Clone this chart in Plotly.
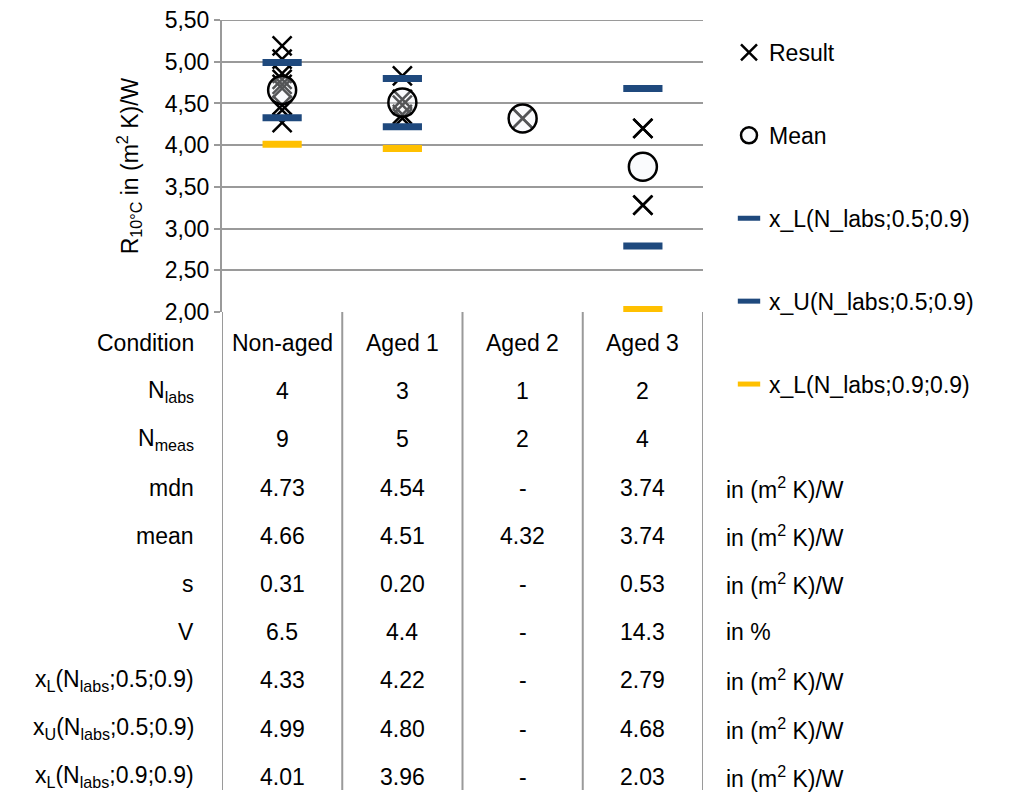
import plotly.graph_objects as go

# ---------------- data ----------------
conditions = ["Non-aged", "Aged 1", "Aged 2", "Aged 3"]

# individual results
res_cond = (["Non-aged"] * 9) + (["Aged 1"] * 5) + (["Aged 2"] * 2) + (["Aged 3"] * 4)
res_vals = [5.19, 5.03, 4.86, 4.79, 4.73, 4.68, 4.48, 4.42, 4.27,
            4.83, 4.55, 4.48, 4.37, 4.32,
            4.32, 4.32,
            4.20, 4.20, 3.28, 3.28]

n_labs = ["4", "3", "1", "2"]
n_meas = ["9", "5", "2", "4"]
mdn = ["4.73", "4.54", "-", "3.74"]
mean_vals = [4.66, 4.51, 4.32, 3.74]
s_vals = ["0.31", "0.20", "-", "0.53"]
v_vals = ["6.5", "4.4", "-", "14.3"]
xl05 = [4.33, 4.22, None, 2.79]
xu05 = [4.99, 4.80, None, 4.68]
xl09 = [4.01, 3.96, None, 2.03]

y_ticks = [2.0, 2.5, 3.0, 3.5, 4.0, 4.5, 5.0, 5.5]

row_labels = ["Condition", "N<sub>labs</sub>", "N<sub>meas</sub>", "mdn", "mean", "s", "V",
              "x<sub>L</sub>(N<sub>labs</sub>;0.5;0.9)",
              "x<sub>U</sub>(N<sub>labs</sub>;0.5;0.9)",
              "x<sub>L</sub>(N<sub>labs</sub>;0.9;0.9)"]
unit_kgw = "in (m<sup>2</sup> K)/W"
row_units = ["", "", "", unit_kgw, unit_kgw, unit_kgw, "in %", unit_kgw, unit_kgw, unit_kgw]

def fmt(v):
    return "-" if v is None else f"{v:.2f}"

table_rows = [conditions, n_labs, n_meas, mdn, [fmt(v) for v in mean_vals], s_vals, v_vals,
              [fmt(v) for v in xl05], [fmt(v) for v in xu05], [fmt(v) for v in xl09]]

# ---------------- layout geometry ----------------
# the page body has an 8px margin, so the figure is drawn 8px smaller
OFF = 8
W, H = 1016 - OFF, 794 - OFF
# plot area in page (reference) pixels
RL, RR, RT, RB = 222, 703, 20, 312
FONT = "Liberation Sans, Arial, sans-serif"
FS = 23
BLUE = "#1F497D"
YELLOW = "#FFC000"
GRID = "#9a9a9a"

def py(px):  # reference pixel y -> paper y
    return (RB - px) / (RB - RT)

def pxp(px):  # reference pixel x -> paper x
    return (px - RL) / (RR - RL)

fig = go.Figure()

fig.add_trace(go.Scatter(
    x=res_cond, y=res_vals, mode="markers", name="Result", legendgroup="a",
    marker=dict(symbol="x-thin-open", size=19, color="black", line=dict(width=2.5, color="black")),
))
fig.add_trace(go.Scatter(
    x=conditions, y=mean_vals, mode="markers", name="Mean", legendgroup="b",
    marker=dict(symbol="circle", size=28, color="rgba(240,244,250,0.35)",
                line=dict(width=2.5, color="black")),
))
for name, vals, col, grp in [("x_L(N_labs;0.5;0.9)", xl05, BLUE, "c"),
                             ("x_U(N_labs;0.5;0.9)", xu05, BLUE, "d"),
                             ("x_L(N_labs;0.9;0.9)", xl09, YELLOW, "e")]:
    fig.add_trace(go.Scatter(
        x=conditions, y=vals, mode="markers", name=name, legendgroup=grp,
        marker=dict(symbol="line-ew", size=28, color=col, line=dict(width=7, color=col)),
    ))

annotations = []
row_px = [343 + i * 48.2 for i in range(len(row_labels))]
for i, (lab, vals, unit) in enumerate(zip(row_labels, table_rows, row_units)):
    yy = py(row_px[i])
    annotations.append(dict(x=pxp(196), y=yy, xref="paper", yref="paper", text=lab,
                            showarrow=False, xanchor="right", yanchor="middle",
                            font=dict(size=FS, family=FONT, color="black")))
    for c, v in zip(conditions, vals):
        annotations.append(dict(x=c, y=yy, xref="x", yref="paper", text=v,
                                showarrow=False, xanchor="center", yanchor="middle",
                                font=dict(size=FS, family=FONT, color="black")))
    if unit:
        annotations.append(dict(x=pxp(724), y=yy, xref="paper", yref="paper", text=unit,
                                showarrow=False, xanchor="left", yanchor="middle",
                                font=dict(size=FS, family=FONT, color="black")))

shapes = []
for k in range(len(conditions) + 1):
    shapes.append(dict(type="line", xref="x", yref="paper", x0=k - 0.5, x1=k - 0.5,
                       y0=0, y1=py(790), line=dict(color=GRID, width=2)))
# top gridline at the upper end of the value axis
shapes.append(dict(type="line", xref="paper", yref="y", x0=0, x1=1,
                   y0=y_ticks[-1], y1=y_ticks[-1], line=dict(color=GRID, width=2), layer="below"))

fig.update_layout(
    width=W, height=H,
    margin=dict(l=RL - OFF, r=1016 - RR, t=RT - OFF, b=794 - RB, autoexpand=False),
    paper_bgcolor="white", plot_bgcolor="white",
    font=dict(family=FONT, size=FS, color="black"),
    showlegend=True,
    legend=dict(x=pxp(729), y=py(31), xanchor="left", yanchor="top",
                font=dict(size=FS, family=FONT, color="black"),
                tracegroupgap=50, bgcolor="rgba(0,0,0,0)", itemwidth=30,
                maxheight=700),
    xaxis=dict(type="category", categoryarray=conditions, range=[-0.5, 3.5],
               showticklabels=False, showgrid=False, zeroline=False, showline=False, ticks=""),
    yaxis=dict(range=[1.9995, 5.5005], tickmode="array", tickvals=y_ticks,
               ticktext=[f"{v:.2f}".replace(".", ",") for v in y_ticks],
               ticklabeloverflow="allow",
               showgrid=True, gridcolor=GRID, gridwidth=2, zeroline=False,
               showline=True, linecolor=GRID, linewidth=2,
               ticks="outside", ticklen=6, tickcolor=GRID, tickwidth=2,
               tickfont=dict(size=FS, family=FONT, color="black"),
               title=dict(text="R<sub>10°C</sub> in (m<sup>2</sup> K)/W",
                          font=dict(size=FS, family=FONT, color="black"), standoff=20)),
    annotations=annotations,
    shapes=shapes,
)

fig.write_html("out.html")
